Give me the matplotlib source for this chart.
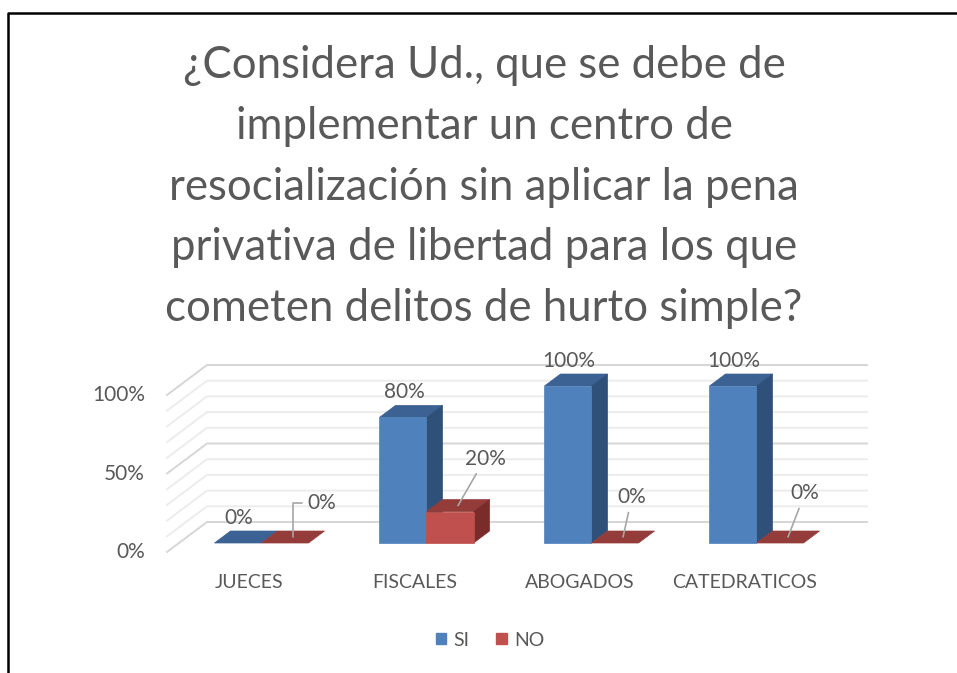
import matplotlib.pyplot as plt
from matplotlib.patches import Polygon, Patch
from matplotlib.lines import Line2D

categories = ["JUECES", "FISCALES", "ABOGADOS", "CATEDRATICOS"]
si_values = [0, 80, 100, 100]
no_values = [0, 20, 0, 0]
y_ticks = [0, 50, 100]
grid_values = list(range(0, 101, 10))
title = ("¿Considera Ud., que se debe de\nimplementar un centro de\n"
         "resocialización sin aplicar la pena\nprivativa de libertad para los que\n"
         "cometen delitos de hurto simple?")

W, H = 957, 673
FONT = "Lato"
GREY = "#595959"
BLUE = ("#4f81bd", "#2f5179", "#3c6293")   # front, side, top
RED = ("#c0504d", "#7a2c2a", "#943c3a")

# fake 3d: depth of the back wall in data units, bars sit between Z0 and Z1
DEPTH_X = 0.2424
DEPTH_Y = 19.1
BAR_W = 0.285
Z0, Z1 = 0.3, 0.7


def p(x, y, z):
    return (x + z * DEPTH_X, y + z * DEPTH_Y)


def pt(px):
    # pixels -> points
    return px * 72 / 100


plt.rcParams['font.family'] = [FONT, 'DejaVu Sans']

fig = plt.figure(figsize=(W / 100, H / 100), dpi=100)
ax = fig.add_axes([0, 0, 1, 1])
# front plane layout in pixels: x=-0.5 at px 167, 165 px per category, 0% at px 552, 1.57 px per %
px0, unit, base, per = 167, 165, 552, 1.57
ax.set_xlim(-0.5 - px0 / unit, -0.5 + (W - px0) / unit)
ax.set_ylim((base - H) / per, base / per)
ax.axis("off")

x_left, x_right = -0.5, len(categories) - 0.5

# side wall + back wall gridlines
for v in grid_values:
    c = "#d6d6d6" if v in y_ticks else "#ececec"
    xs, ys = zip(p(x_left, v, 0), p(x_left, v, 1), p(x_right, v, 1))
    ax.plot(xs, ys, color=c, lw=1.4, zorder=1)

for v in y_ticks:
    ax.annotate(f"{v}%", (x_left, v), xytext=(pt(-22), 0), textcoords="offset points",
                ha="right", va="center", fontsize=15, color=GREY)


def draw_bar(x, h, colors, z):
    front, side, top = colors
    ax.add_patch(Polygon([p(x, h, Z0), p(x + BAR_W, h, Z0), p(x + BAR_W, h, Z1), p(x, h, Z1)],
                         closed=True, fc=top, ec=top, lw=0.5, zorder=z))
    if h > 0:
        ax.add_patch(Polygon([p(x + BAR_W, 0, Z0), p(x + BAR_W, h, Z0), p(x + BAR_W, h, Z1), p(x + BAR_W, 0, Z1)],
                             closed=True, fc=side, ec=side, lw=0.5, zorder=z))
        fx, fy = p(x, 0, Z0)
        ax.bar(fx, h, width=BAR_W, bottom=fy, align="edge", color=front, ec=front, lw=0.5, zorder=z + 1)
    # centre of the top face, for the labels
    return p(x + BAR_W / 2, h, (Z0 + Z1) / 2)


no_label_offsets = [(29, 34), (27, 47), (9, 40), (17, 44)]

for i, cat in enumerate(categories):
    z = 2 + i * 4
    top_si = draw_bar(i - BAR_W, si_values[i], BLUE, z)
    top_no = draw_bar(i, no_values[i], RED, z + 2)

    ax.annotate(f"{si_values[i]}%", top_si, xytext=(pt(-7), pt(19)), textcoords="offset points",
                ha="center", va="center", fontsize=15, color=GREY, zorder=30)

    ox, oy = no_label_offsets[i]
    style = "angle,angleA=0,angleB=90,rad=0" if i == 0 else "arc3"
    ax.annotate(f"{no_values[i]}%", top_no, xytext=(pt(ox), pt(oy)), textcoords="offset points",
                ha="center", va="center", fontsize=15, color=GREY, zorder=30,
                arrowprops=dict(arrowstyle="-", color="#a6a6a6", lw=1.2,
                                connectionstyle=style, shrinkA=2, shrinkB=0))

    ax.annotate(cat, (i, 0), xytext=(0, pt(-31)), textcoords="offset points",
                ha="center", va="center", fontsize=14, color=GREY)

fig.text(484 / W, 1 - 187 / H, title, ha="center", va="center", fontsize=31.5,
         color=GREY, linespacing=1.6)

handles = [Patch(color=BLUE[0]), Patch(color=RED[0])]
fig.legend(handles, ["SI", "NO"], loc="center", bbox_to_anchor=(490 / W, 1 - 640 / H), ncol=2,
           frameon=False, handlelength=0.55, handleheight=0.55, handletextpad=0.35,
           columnspacing=1.4, fontsize=14, labelcolor=GREY)

# frame lines at top and left
fig.add_artist(Line2D([8 / W, 8 / W, 1], [0, 1 - 13 / H, 1 - 13 / H], color="black", lw=1.8))

fig.savefig("out.png", dpi=100)
